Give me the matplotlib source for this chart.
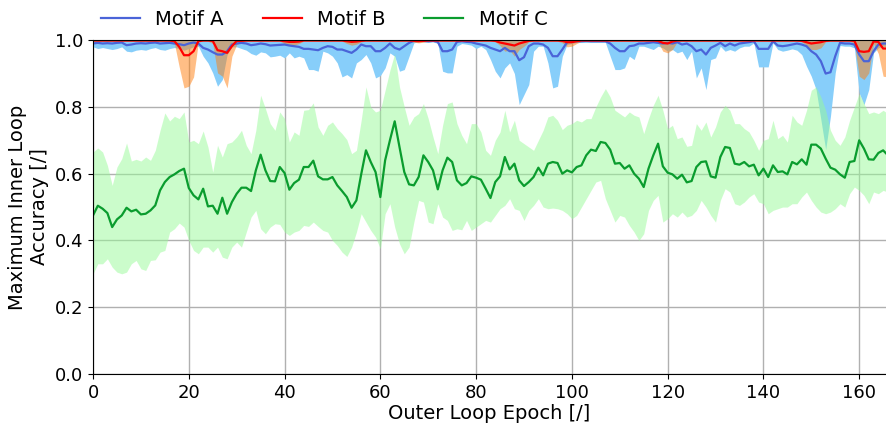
import matplotlib
matplotlib.use("Agg")
import matplotlib.pyplot as plt
import numpy as np

# outer loop epochs
epochs = np.arange(167)

# Motif A: mean and lower bound of the max inner-loop accuracy
motif_a_mean = [
    0.990, 0.992, 0.990, 0.991, 0.990, 0.992, 0.993, 0.985, 0.987, 0.990,
    0.991, 0.990, 0.992, 0.993, 0.990, 0.991, 0.992, 0.990, 0.988, 0.985,
    0.990, 0.993, 0.990, 0.977, 0.972, 0.964, 0.957, 0.957, 0.967, 0.987,
    0.990, 0.992, 0.990, 0.985, 0.987, 0.990, 0.988, 0.984, 0.985, 0.986,
    0.987, 0.984, 0.982, 0.980, 0.974, 0.974, 0.972, 0.970, 0.977, 0.982,
    0.980, 0.972, 0.972, 0.967, 0.962, 0.972, 0.987, 0.982, 0.982, 0.967,
    0.967, 0.977, 0.990, 0.977, 0.972, 0.982, 0.992, 0.998, 0.998, 0.998,
    0.997, 0.998, 0.995, 0.967, 0.967, 0.972, 0.995, 0.997, 0.995, 0.994,
    0.990, 0.987, 0.984, 0.977, 0.972, 0.967, 0.977, 0.967, 0.967, 0.940,
    0.949, 0.982, 0.990, 0.990, 0.987, 0.977, 0.952, 0.952, 0.972, 0.994,
    0.997, 0.997, 0.997, 0.998, 0.997, 0.997, 0.997, 0.997, 0.990, 0.977,
    0.967, 0.967, 0.982, 0.984, 0.990, 0.990, 0.992, 0.994, 0.992, 0.990,
    0.992, 0.990, 0.994, 0.987, 0.990, 0.982, 0.967, 0.972, 0.957, 0.977,
    0.984, 0.992, 0.982, 0.990, 0.984, 0.990, 0.992, 0.994, 0.997, 0.974,
    0.974, 0.974, 0.997, 0.984, 0.982, 0.984, 0.987, 0.990, 0.987, 0.982,
    0.967, 0.957, 0.937, 0.900, 0.904, 0.952, 0.992, 0.990, 0.990, 0.987,
    0.957, 0.937, 0.937, 0.967, 0.987, 0.990, 0.990,
]
motif_a_low = [
    0.980, 0.975, 0.978, 0.975, 0.972, 0.975, 0.980, 0.967, 0.965, 0.970,
    0.972, 0.970, 0.975, 0.978, 0.972, 0.970, 0.975, 0.978, 0.975, 0.970,
    0.975, 0.980, 0.982, 0.952, 0.932, 0.902, 0.862, 0.882, 0.957, 0.980,
    0.980, 0.975, 0.970, 0.960, 0.955, 0.965, 0.962, 0.950, 0.952, 0.955,
    0.947, 0.962, 0.947, 0.952, 0.947, 0.912, 0.912, 0.907, 0.967, 0.962,
    0.952, 0.932, 0.890, 0.897, 0.887, 0.932, 0.942, 0.957, 0.932, 0.887,
    0.894, 0.917, 0.962, 0.952, 0.907, 0.912, 0.952, 0.992, 0.995, 0.995,
    0.993, 0.995, 0.990, 0.907, 0.902, 0.902, 0.982, 0.990, 0.988, 0.985,
    0.975, 0.982, 0.972, 0.942, 0.907, 0.887, 0.917, 0.932, 0.900, 0.807,
    0.837, 0.867, 0.967, 0.982, 0.982, 0.932, 0.857, 0.862, 0.952, 0.987,
    0.990, 0.993, 0.993, 0.993, 0.993, 0.993, 0.993, 0.993, 0.952, 0.912,
    0.912, 0.917, 0.952, 0.942, 0.982, 0.982, 0.977, 0.972, 0.982, 0.977,
    0.967, 0.972, 0.962, 0.967, 0.942, 0.967, 0.887, 0.917, 0.852, 0.942,
    0.947, 0.982, 0.967, 0.972, 0.967, 0.977, 0.982, 0.982, 0.992, 0.920,
    0.920, 0.920, 0.992, 0.972, 0.967, 0.970, 0.974, 0.970, 0.957, 0.922,
    0.892, 0.852, 0.762, 0.672, 0.772, 0.902, 0.984, 0.982, 0.982, 0.977,
    0.842, 0.807, 0.852, 0.962, 0.977, 0.982, 0.980,
]

# Motif B
motif_b_mean = [
    0.999, 0.999, 0.999, 0.999, 0.999, 0.999, 0.999, 0.999, 0.999, 0.999,
    0.999, 0.999, 0.999, 0.999, 0.999, 0.999, 0.999, 0.997, 0.980, 0.955,
    0.955, 0.967, 0.997, 0.999, 0.999, 0.998, 0.970, 0.967, 0.962, 0.982,
    0.998, 0.998, 0.999, 0.999, 0.999, 0.999, 0.999, 0.999, 0.999, 0.999,
    0.997, 0.995, 0.995, 0.996, 0.999, 0.999, 0.999, 0.999, 0.999, 0.999,
    0.999, 0.999, 0.999, 0.997, 0.995, 0.996, 0.998, 0.999, 0.999, 0.999,
    0.999, 0.999, 0.999, 0.999, 0.999, 0.999, 0.999, 0.998, 0.997, 0.998,
    0.999, 0.999, 0.999, 0.999, 0.999, 0.999, 0.999, 0.999, 0.999, 0.999,
    0.999, 0.999, 0.999, 0.999, 0.998, 0.993, 0.990, 0.987, 0.984, 0.990,
    0.994, 0.998, 0.999, 0.999, 0.999, 0.999, 0.999, 0.999, 0.998, 0.994,
    0.994, 0.997, 0.999, 0.999, 0.999, 0.999, 0.999, 0.999, 0.999, 0.999,
    0.999, 0.999, 0.999, 0.999, 0.999, 0.999, 0.999, 0.999, 0.998, 0.992,
    0.990, 0.996, 0.999, 0.999, 0.999, 0.999, 0.999, 0.999, 0.999, 0.999,
    0.999, 0.999, 0.999, 0.999, 0.999, 0.999, 0.999, 0.999, 0.999, 0.999,
    0.999, 0.999, 0.999, 0.999, 0.999, 0.999, 0.999, 0.999, 0.998, 0.994,
    0.990, 0.992, 0.994, 0.998, 0.999, 0.999, 0.999, 0.999, 0.999, 0.998,
    0.967, 0.965, 0.967, 0.996, 0.995, 0.975, 0.975,
]
motif_b_low = [
    0.997, 0.997, 0.997, 0.997, 0.997, 0.997, 0.997, 0.997, 0.997, 0.997,
    0.997, 0.997, 0.997, 0.997, 0.997, 0.997, 0.997, 0.990, 0.920, 0.857,
    0.862, 0.890, 0.995, 0.997, 0.997, 0.990, 0.902, 0.892, 0.857, 0.952,
    0.987, 0.994, 0.997, 0.997, 0.997, 0.997, 0.997, 0.997, 0.997, 0.997,
    0.990, 0.985, 0.985, 0.990, 0.997, 0.997, 0.997, 0.997, 0.997, 0.997,
    0.997, 0.997, 0.997, 0.990, 0.985, 0.988, 0.995, 0.997, 0.997, 0.997,
    0.997, 0.997, 0.997, 0.997, 0.997, 0.997, 0.997, 0.994, 0.992, 0.994,
    0.997, 0.997, 0.997, 0.997, 0.997, 0.997, 0.997, 0.997, 0.997, 0.997,
    0.997, 0.997, 0.997, 0.997, 0.995, 0.984, 0.967, 0.970, 0.952, 0.972,
    0.982, 0.995, 0.997, 0.997, 0.997, 0.997, 0.997, 0.997, 0.992, 0.980,
    0.982, 0.990, 0.997, 0.997, 0.997, 0.997, 0.997, 0.997, 0.997, 0.997,
    0.997, 0.997, 0.997, 0.997, 0.997, 0.997, 0.997, 0.997, 0.994, 0.967,
    0.962, 0.972, 0.995, 0.997, 0.997, 0.997, 0.997, 0.997, 0.997, 0.997,
    0.997, 0.997, 0.997, 0.997, 0.997, 0.997, 0.997, 0.997, 0.997, 0.997,
    0.997, 0.997, 0.997, 0.997, 0.997, 0.997, 0.997, 0.997, 0.995, 0.985,
    0.972, 0.972, 0.977, 0.995, 0.997, 0.997, 0.997, 0.997, 0.997, 0.990,
    0.892, 0.882, 0.902, 0.990, 0.960, 0.892, 0.890,
]

# Motif C
motif_c_mean = [
    0.475, 0.504, 0.495, 0.482, 0.440, 0.463, 0.475, 0.498, 0.487, 0.492,
    0.478, 0.480, 0.490, 0.505, 0.550, 0.575, 0.590, 0.598, 0.608, 0.615,
    0.557, 0.535, 0.523, 0.555, 0.502, 0.504, 0.480, 0.528, 0.480, 0.515,
    0.540, 0.558, 0.558, 0.548, 0.610, 0.657, 0.610, 0.578, 0.577, 0.620,
    0.602, 0.552, 0.572, 0.582, 0.620, 0.620, 0.639, 0.592, 0.583, 0.583,
    0.590, 0.565, 0.548, 0.530, 0.498, 0.520, 0.598, 0.670, 0.635, 0.605,
    0.530, 0.640, 0.700, 0.757, 0.680, 0.605, 0.568, 0.565, 0.590, 0.655,
    0.635, 0.610, 0.553, 0.610, 0.648, 0.635, 0.580, 0.565, 0.572, 0.592,
    0.588, 0.582, 0.555, 0.527, 0.575, 0.592, 0.650, 0.613, 0.630, 0.580,
    0.563, 0.575, 0.590, 0.618, 0.595, 0.630, 0.635, 0.632, 0.600, 0.610,
    0.604, 0.620, 0.625, 0.655, 0.672, 0.668, 0.695, 0.692, 0.672, 0.630,
    0.632, 0.615, 0.625, 0.600, 0.585, 0.560, 0.615, 0.655, 0.690, 0.622,
    0.603, 0.598, 0.585, 0.597, 0.574, 0.578, 0.620, 0.635, 0.637, 0.592,
    0.588, 0.650, 0.680, 0.677, 0.630, 0.627, 0.635, 0.622, 0.627, 0.595,
    0.615, 0.590, 0.625, 0.605, 0.607, 0.598, 0.635, 0.628, 0.643, 0.627,
    0.687, 0.687, 0.675, 0.645, 0.618, 0.612, 0.598, 0.588, 0.635, 0.638,
    0.700, 0.675, 0.643, 0.642, 0.662, 0.670, 0.655,
]
motif_c_low = [
    0.300, 0.330, 0.330, 0.345, 0.320, 0.305, 0.300, 0.305, 0.330, 0.340,
    0.315, 0.310, 0.340, 0.342, 0.365, 0.370, 0.425, 0.435, 0.452, 0.440,
    0.400, 0.370, 0.360, 0.380, 0.380, 0.365, 0.380, 0.350, 0.345, 0.380,
    0.395, 0.380, 0.425, 0.470, 0.490, 0.435, 0.420, 0.440, 0.450, 0.448,
    0.425, 0.415, 0.425, 0.430, 0.445, 0.442, 0.455, 0.442, 0.430, 0.425,
    0.400, 0.385, 0.365, 0.352, 0.380, 0.425, 0.480, 0.455, 0.430, 0.410,
    0.375, 0.480, 0.510, 0.440, 0.390, 0.360, 0.380, 0.455, 0.520, 0.515,
    0.455, 0.450, 0.510, 0.470, 0.460, 0.430, 0.435, 0.432, 0.460, 0.430,
    0.440, 0.450, 0.460, 0.455, 0.475, 0.495, 0.505, 0.525, 0.495, 0.490,
    0.460, 0.490, 0.505, 0.525, 0.500, 0.495, 0.497, 0.495, 0.490, 0.480,
    0.465, 0.475, 0.500, 0.525, 0.550, 0.575, 0.580, 0.525, 0.490, 0.455,
    0.475, 0.470, 0.445, 0.425, 0.400, 0.420, 0.490, 0.520, 0.535, 0.455,
    0.465, 0.480, 0.470, 0.485, 0.470, 0.475, 0.490, 0.520, 0.500, 0.475,
    0.455, 0.520, 0.555, 0.545, 0.510, 0.505, 0.515, 0.530, 0.540, 0.515,
    0.510, 0.480, 0.490, 0.495, 0.500, 0.500, 0.510, 0.510, 0.530, 0.545,
    0.520, 0.500, 0.485, 0.480, 0.485, 0.495, 0.510, 0.500, 0.540, 0.560,
    0.550, 0.535, 0.510, 0.545, 0.540, 0.550, 0.545,
]
motif_c_high = [
    0.665, 0.677, 0.665, 0.625, 0.565, 0.620, 0.645, 0.692, 0.638, 0.643,
    0.638, 0.650, 0.640, 0.670, 0.730, 0.782, 0.758, 0.772, 0.765, 0.785,
    0.695, 0.700, 0.690, 0.728, 0.680, 0.605, 0.685, 0.650, 0.690, 0.695,
    0.710, 0.730, 0.685, 0.660, 0.730, 0.835, 0.795, 0.750, 0.730, 0.785,
    0.765, 0.695, 0.725, 0.715, 0.790, 0.792, 0.812, 0.740, 0.715, 0.745,
    0.755, 0.735, 0.720, 0.702, 0.660, 0.670, 0.760, 0.860, 0.800, 0.785,
    0.790, 0.850, 0.910, 0.960, 0.860, 0.800, 0.745, 0.770, 0.780, 0.810,
    0.765, 0.710, 0.660, 0.745, 0.810, 0.815, 0.750, 0.715, 0.690, 0.750,
    0.750, 0.725, 0.670, 0.655, 0.700, 0.725, 0.790, 0.725, 0.760, 0.700,
    0.690, 0.680, 0.670, 0.700, 0.730, 0.770, 0.775, 0.760, 0.732, 0.745,
    0.750, 0.760, 0.755, 0.765, 0.765, 0.800, 0.830, 0.855, 0.830, 0.790,
    0.780, 0.770, 0.785, 0.775, 0.770, 0.720, 0.765, 0.805, 0.835, 0.790,
    0.735, 0.745, 0.705, 0.710, 0.682, 0.685, 0.750, 0.730, 0.755, 0.710,
    0.740, 0.785, 0.805, 0.790, 0.750, 0.750, 0.735, 0.725, 0.700, 0.670,
    0.700, 0.705, 0.760, 0.705, 0.715, 0.695, 0.775, 0.755, 0.745, 0.790,
    0.850, 0.860, 0.830, 0.790, 0.730, 0.700, 0.685, 0.710, 0.760, 0.800,
    0.840, 0.810, 0.780, 0.785, 0.780, 0.790, 0.780,
]

fig = plt.figure(figsize=(8.86, 4.23), dpi=100)
ax = fig.add_axes([0.105, 0.116, 0.895, 0.789])

# bands first, mean lines on top
ax.fill_between(epochs, motif_a_low, 1.0, color='lightskyblue', linewidth=0)
ax.fill_between(epochs, motif_b_low, 1.0, color='tab:orange', alpha=0.5, linewidth=0)
ax.fill_between(epochs, motif_c_low, motif_c_high, color='palegreen', alpha=0.5, linewidth=0)

ax.plot(epochs, motif_a_mean, color='#4a64d8', linewidth=1.6, label='Motif A')
ax.plot(epochs, motif_b_mean, color='red', linewidth=1.6, label='Motif B')
ax.plot(epochs, motif_c_mean, color='#0a9c2e', linewidth=1.6, label='Motif C')

ax.set_xlim(0, 165.6)
ax.set_ylim(0, 1.0)
ax.set_xticks(np.arange(0, 161, 20))
ax.set_yticks(np.arange(0, 1.01, 0.2))
ax.tick_params(labelsize=13)
ax.grid(True, color='#b0b0b0', linewidth=1)
ax.set_axisbelow(True)
ax.spines['right'].set_visible(False)

ax.set_xlabel('Outer Loop Epoch [/]', fontsize=14, labelpad=2)
ax.set_ylabel('Maximum Inner Loop\nAccuracy [/]', fontsize=14)
ax.legend(loc='lower left', bbox_to_anchor=(0.0, 1.01), ncol=3, frameon=False,
          fontsize=14, handlelength=2.0, columnspacing=2.0, borderaxespad=0)

fig.savefig('out.png', dpi=100)
